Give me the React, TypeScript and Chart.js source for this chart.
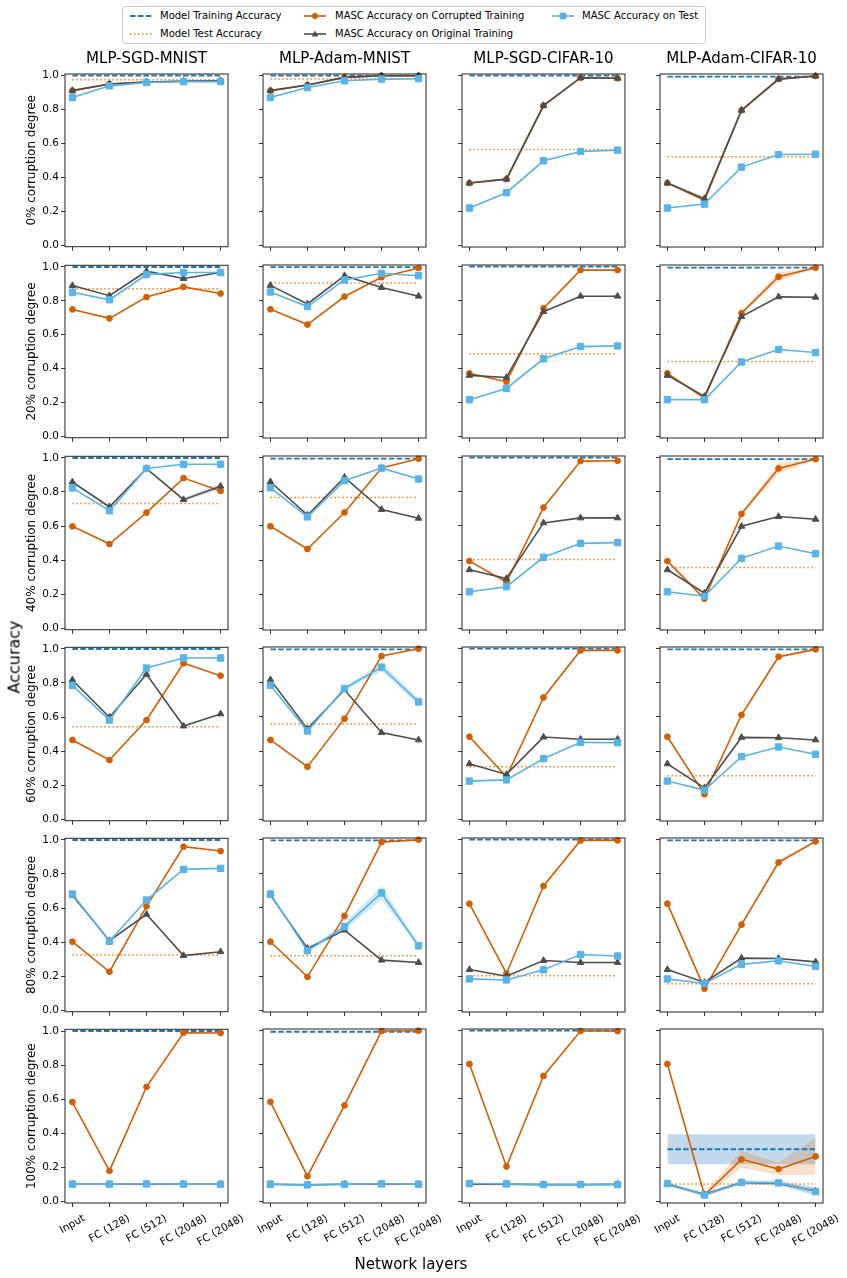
import React, { useEffect, useRef } from 'react';
import { Chart, registerables } from 'chart.js';

Chart.register(...registerables);

const FONT = "'DejaVu Sans', 'Liberation Sans', sans-serif";
Chart.defaults.font.family = FONT;
Chart.defaults.color = '#000';

// ---------------- data ----------------
const MODELS = ['MLP-SGD-MNIST', 'MLP-Adam-MNIST', 'MLP-SGD-CIFAR-10', 'MLP-Adam-CIFAR-10'];
const CORRUPTION = ['0%', '20%', '40%', '60%', '80%', '100%'];
const LAYERS = ['Input', 'FC (128)', 'FC (512)', 'FC (2048)', 'FC (2048)'];
const Y_TICKS = [0, 0.2, 0.4, 0.6, 0.8, 1.0];

// rows = corruption degree, columns = model
const modelTrainAccuracy = [
  [1.0, 1.0, 1.0, 0.994],
  [1.0, 0.997, 1.0, 0.994],
  [1.0, 0.995, 1.0, 0.992],
  [1.0, 0.996, 1.0, 0.996],
  [1.0, 0.996, 1.0, 0.996],
  [1.0, 0.994, 1.0, 0.305],
];
const modelTestAccuracy = [
  [0.976, 0.98, 0.565, 0.522],
  [0.871, 0.904, 0.486, 0.441],
  [0.732, 0.767, 0.404, 0.357],
  [0.543, 0.559, 0.308, 0.255],
  [0.324, 0.32, 0.202, 0.155],
  [0.098, 0.098, 0.098, 0.102],
];

const corruptedSgdMnist = [
  [0.912, 0.951, 0.963, 0.967, 0.97],
  [0.749, 0.696, 0.822, 0.882, 0.843],
  [0.598, 0.494, 0.679, 0.882, 0.806],
  [0.465, 0.347, 0.582, 0.916, 0.843],
  [0.402, 0.225, 0.61, 0.961, 0.935],
  [0.583, 0.179, 0.672, 0.99, 0.988],
];
const originalSgdMnist = [
  [0.912, 0.951, 0.963, 0.967, 0.97],
  [0.89, 0.83, 0.975, 0.932, 0.967],
  [0.859, 0.712, 0.938, 0.755, 0.834],
  [0.818, 0.598, 0.851, 0.547, 0.618],
  [0.675, 0.408, 0.563, 0.32, 0.343],
  [0.1, 0.1, 0.1, 0.1, 0.1],
];
const testSgdMnist = [
  [0.871, 0.94, 0.96, 0.965, 0.965],
  [0.851, 0.806, 0.955, 0.967, 0.967],
  [0.824, 0.69, 0.938, 0.963, 0.963],
  [0.786, 0.582, 0.888, 0.947, 0.947],
  [0.682, 0.404, 0.647, 0.827, 0.833],
  [0.101, 0.101, 0.102, 0.101, 0.1],
];

const corruptedAdamMnist = [
  [0.912, 0.945, 0.99, 1.0, 1.0],
  [0.749, 0.659, 0.824, 0.938, 0.992],
  [0.598, 0.465, 0.679, 0.94, 0.994],
  [0.465, 0.308, 0.59, 0.957, 1.0],
  [0.402, 0.196, 0.553, 0.986, 1.0],
  [0.583, 0.147, 0.562, 0.998, 1.0],
];
const originalAdamMnist = [
  [0.912, 0.945, 0.99, 1.0, 1.0],
  [0.89, 0.78, 0.947, 0.877, 0.826],
  [0.859, 0.663, 0.885, 0.696, 0.645],
  [0.818, 0.53, 0.759, 0.508, 0.465],
  [0.675, 0.363, 0.47, 0.294, 0.28],
  [0.1, 0.096, 0.1, 0.1, 0.1],
];
const testAdamMnist = [
  [0.871, 0.93, 0.97, 0.98, 0.982],
  [0.851, 0.765, 0.922, 0.961, 0.947],
  [0.824, 0.653, 0.865, 0.939, 0.875],
  [0.786, 0.518, 0.767, 0.892, 0.688],
  [0.682, 0.349, 0.49, 0.688, 0.378],
  [0.1, 0.096, 0.1, 0.102, 0.1],
];

const corruptedSgdCifar = [
  [0.367, 0.39, 0.824, 0.988, 0.985],
  [0.371, 0.322, 0.755, 0.98, 0.98],
  [0.394, 0.271, 0.708, 0.98, 0.982],
  [0.484, 0.249, 0.714, 0.99, 0.99],
  [0.625, 0.216, 0.729, 0.996, 0.996],
  [0.805, 0.204, 0.735, 0.998, 0.998],
];
const originalSgdCifar = [
  [0.367, 0.39, 0.824, 0.988, 0.985],
  [0.359, 0.347, 0.735, 0.826, 0.826],
  [0.343, 0.292, 0.618, 0.647, 0.647],
  [0.325, 0.263, 0.482, 0.469, 0.469],
  [0.239, 0.2, 0.292, 0.28, 0.28],
  [0.1, 0.1, 0.098, 0.098, 0.1],
];
const testSgdCifar = [
  [0.22, 0.31, 0.498, 0.553, 0.561],
  [0.216, 0.282, 0.457, 0.529, 0.533],
  [0.214, 0.244, 0.416, 0.498, 0.502],
  [0.224, 0.231, 0.355, 0.451, 0.449],
  [0.184, 0.178, 0.237, 0.327, 0.318],
  [0.104, 0.102, 0.098, 0.098, 0.098],
];

const corruptedAdamCifar = [
  [0.367, 0.265, 0.796, 0.98, 0.998],
  [0.371, 0.226, 0.726, 0.941, 0.994],
  [0.394, 0.173, 0.671, 0.937, 0.992],
  [0.484, 0.147, 0.612, 0.953, 0.996],
  [0.625, 0.127, 0.502, 0.867, 0.99],
  [0.805, 0.037, 0.246, 0.189, 0.263],
];
const originalAdamCifar = [
  [0.367, 0.275, 0.796, 0.98, 0.998],
  [0.359, 0.235, 0.706, 0.822, 0.82],
  [0.343, 0.206, 0.598, 0.655, 0.639],
  [0.325, 0.184, 0.48, 0.478, 0.465],
  [0.239, 0.163, 0.306, 0.304, 0.284],
  [0.1, 0.04, 0.11, 0.105, 0.06],
];
const testAdamCifar = [
  [0.22, 0.243, 0.461, 0.535, 0.537],
  [0.216, 0.216, 0.438, 0.512, 0.494],
  [0.214, 0.188, 0.41, 0.482, 0.437],
  [0.224, 0.171, 0.367, 0.424, 0.381],
  [0.184, 0.157, 0.269, 0.29, 0.257],
  [0.104, 0.037, 0.11, 0.108, 0.057],
];

// spread (half-width of shaded bands)
const NO_SPREAD = [0, 0, 0, 0, 0];
const corruptedSpreadAdamCifar = [
  NO_SPREAD,
  [0, 0.01, 0.01, 0.025, 0.005],
  [0, 0.01, 0.01, 0.03, 0.005],
  [0, 0.005, 0.01, 0.01, 0.003],
  [0, 0.005, 0.01, 0.015, 0.005],
  [0.005, 0.015, 0.05, 0.035, 0.11],
];
const originalSpreadAdamCifar = [
  [0, 0.01, 0, 0, 0],
  [0, 0.005, 0, 0, 0],
  [0, 0.01, 0, 0, 0],
  NO_SPREAD,
  NO_SPREAD,
  [0.005, 0.01, 0.01, 0.01, 0.02],
];
const testSpreadAdamCifar = [NO_SPREAD, NO_SPREAD, NO_SPREAD, NO_SPREAD, NO_SPREAD, [0.01, 0.01, 0.01, 0.015, 0.025]];
const testSpreadAdamMnist = [
  NO_SPREAD,
  NO_SPREAD,
  NO_SPREAD,
  [0, 0.01, 0.01, 0.025, 0.02],
  [0, 0.01, 0.02, 0.04, 0.01],
  NO_SPREAD,
];
const originalSpreadSgdMnist = [NO_SPREAD, NO_SPREAD, [0, 0.01, 0, 0.01, 0.02], NO_SPREAD, NO_SPREAD, NO_SPREAD];
const trainSpreadAdamCifar = [0, 0, 0, 0, 0, 0.088];

const CORRUPTED = [corruptedSgdMnist, corruptedAdamMnist, corruptedSgdCifar, corruptedAdamCifar];
const ORIGINAL = [originalSgdMnist, originalAdamMnist, originalSgdCifar, originalAdamCifar];
const TEST = [testSgdMnist, testAdamMnist, testSgdCifar, testAdamCifar];
const CORRUPTED_SPREAD = [null, null, null, corruptedSpreadAdamCifar];
const ORIGINAL_SPREAD = [originalSpreadSgdMnist, null, null, originalSpreadAdamCifar];
const TEST_SPREAD = [null, testSpreadAdamMnist, null, testSpreadAdamCifar];
const TRAIN_SPREAD = [null, null, null, trainSpreadAdamCifar];

// ---------------- styles ----------------
const C_TRAIN = '#1f77b4';
const C_MODEL_TEST = '#ff7f0e';
const C_CORRUPT = '#d55e00';
const C_ORIG = '#4d4d4d';
const C_TEST = '#56b4e9';

// ---------------- layout ----------------
const COL_LEFT = [65, 263.3, 461.6, 660];
const BOX_W = 163;
const ROW_TOP0 = 74;
const ROW_STEP = 191.05;
const BOX_H = 173.4;

function geom(row: number, col: number) {
  const bl = Math.round(COL_LEFT[col]);
  const br = Math.round(COL_LEFT[col] + BOX_W);
  const bt = Math.round(ROW_TOP0 + ROW_STEP * row);
  const bb = Math.round(ROW_TOP0 + ROW_STEP * row + BOX_H);
  const padL = col === 0 ? bl : row === 5 ? 36 : 8;
  const padR = row === 5 ? 30 : 6;
  const padT = row === 0 ? 28 : 8;
  const padB = row === 5 ? 52 : 8;
  return {
    left: bl - padL,
    top: bt - padT,
    width: br - bl + padL + padR,
    height: bb - bt + padT + padB,
    padL, padR, padT, padB,
  };
}

const toPoints = (arr: number[]) => arr.map((y, i) => ({ x: i, y }));
const constLine = (v: number) => LAYERS.map((_, i) => ({ x: i, y: v }));

function bandDatasets(values: number[], spread: number[] | null, color: string) {
  if (!spread || !spread.some((s) => s > 0)) return [];
  return [
    {
      data: values.map((v, i) => ({ x: i, y: v + spread[i] })),
      fill: '+1',
      backgroundColor: color,
      borderColor: 'transparent',
      borderWidth: 0,
      pointRadius: 0,
    },
    {
      data: values.map((v, i) => ({ x: i, y: v - spread[i] })),
      fill: false,
      borderColor: 'transparent',
      borderWidth: 0,
      pointRadius: 0,
    },
  ];
}

const framePlugin = {
  id: 'frame',
  afterDatasetsDraw(chart: any) {
    const { left, top, right, bottom } = chart.chartArea;
    const ctx = chart.ctx;
    ctx.save();
    ctx.strokeStyle = '#222';
    ctx.lineWidth = 1;
    ctx.strokeRect(left, top, right - left, bottom - top);
    ctx.restore();
  },
};

const layerLabelPlugin = {
  id: 'layerLabels',
  afterDraw(chart: any) {
    const xs = chart.scales.x;
    const ctx = chart.ctx;
    const fs = 10.5;
    ctx.save();
    ctx.font = `${fs}px ${FONT}`;
    ctx.fillStyle = '#000';
    ctx.textAlign = 'center';
    ctx.textBaseline = 'middle';
    LAYERS.forEach((label, i) => {
      const x = xs.getPixelForValue(i);
      const w = ctx.measureText(label).width;
      const bh = w * 0.5 + fs * 0.866;
      const cy = chart.chartArea.bottom + 10 + bh / 2;
      ctx.save();
      ctx.translate(x, cy);
      ctx.rotate(-Math.PI / 6);
      ctx.fillText(label, 0, 0);
      ctx.restore();
    });
    ctx.restore();
  },
};

function Panel({ row, col }: { row: number; col: number }) {
  const ref = useRef<HTMLCanvasElement>(null);
  const g = geom(row, col);

  useEffect(() => {
    if (!ref.current) return;
    const lineBase = { tension: 0, borderWidth: 1.6, pointBorderWidth: 1, clip: false as any };
    const datasets: any[] = [
      {
        ...lineBase,
        label: 'MASC Accuracy on Test',
        data: toPoints(TEST[col][row]),
        borderColor: C_TEST,
        backgroundColor: C_TEST,
        pointStyle: 'rect',
        pointRadius: 4.5,
      },
      {
        ...lineBase,
        label: 'MASC Accuracy on Original Training',
        data: toPoints(ORIGINAL[col][row]),
        borderColor: C_ORIG,
        backgroundColor: C_ORIG,
        pointStyle: 'triangle',
        pointRadius: 3.8,
      },
      {
        ...lineBase,
        label: 'MASC Accuracy on Corrupted Training',
        data: toPoints(CORRUPTED[col][row]),
        borderColor: C_CORRUPT,
        backgroundColor: C_CORRUPT,
        pointStyle: 'circle',
        pointRadius: 2.9,
      },
      {
        label: 'Model Test Accuracy',
        data: constLine(modelTestAccuracy[row][col]),
        borderColor: C_MODEL_TEST,
        borderWidth: 1.5,
        borderDash: [1.5, 2.5],
        pointRadius: 0,
        clip: false,
      },
      {
        label: 'Model Training Accuracy',
        data: constLine(modelTrainAccuracy[row][col]),
        borderColor: C_TRAIN,
        borderWidth: 1.8,
        borderDash: [5.5, 2.4],
        pointRadius: 0,
        clip: false,
      },
    ];
    const cs = CORRUPTED_SPREAD[col];
    const os = ORIGINAL_SPREAD[col];
    const ts = TEST_SPREAD[col];
    const trs = TRAIN_SPREAD[col];
    datasets.push(...bandDatasets(TEST[col][row], ts ? ts[row] : null, 'rgba(86,180,233,0.28)'));
    datasets.push(...bandDatasets(ORIGINAL[col][row], os ? os[row] : null, 'rgba(77,77,77,0.18)'));
    datasets.push(...bandDatasets(CORRUPTED[col][row], cs ? cs[row] : null, 'rgba(213,94,0,0.2)'));
    if (trs && trs[row] > 0) {
      const v = modelTrainAccuracy[row][col];
      datasets.push(...bandDatasets(LAYERS.map(() => v), LAYERS.map(() => trs[row]), 'rgba(31,119,180,0.28)'));
    }

    const gridOpts = {
      display: true,
      drawOnChartArea: false,
      drawTicks: true,
      tickLength: 4,
      color: '#000',
      lineWidth: 0.8,
    };

    const chart = new Chart(ref.current, {
      type: 'line',
      data: { datasets },
      plugins: row === 5 ? [framePlugin, layerLabelPlugin] : [framePlugin],
      options: {
        animation: false,
        responsive: true,
        maintainAspectRatio: false,
        events: [],
        layout: { padding: { top: row === 0 ? 0 : g.padT, right: g.padR, left: 0, bottom: 0 } },
        plugins: {
          legend: { display: false },
          tooltip: { enabled: false },
          title: {
            display: row === 0,
            text: MODELS[col],
            fullSize: false,
            color: '#000',
            font: { size: 15, weight: 'normal', family: FONT, lineHeight: 1.2 },
            padding: { top: 4, bottom: 6 },
          },
        },
        scales: {
          x: {
            type: 'linear',
            min: -0.2,
            max: 4.2,
            afterBuildTicks: (s: any) => {
              s.ticks = LAYERS.map((_, i) => ({ value: i }));
            },
            afterFit: (s: any) => {
              s.height = g.padB;
            },
            ticks: { display: false },
            grid: gridOpts,
            border: { display: false },
          },
          y: {
            type: 'linear',
            min: -0.01,
            max: 1.01,
            afterBuildTicks: (s: any) => {
              s.ticks = Y_TICKS.map((v) => ({ value: v }));
            },
            afterFit: (s: any) => {
              s.width = g.padL;
            },
            ticks: {
              display: col === 0,
              color: '#000',
              padding: 2,
              font: { size: 10.5, family: FONT },
              callback: (v: any) => Number(v).toFixed(1),
            },
            grid: gridOpts,
            border: { display: false },
            title: {
              display: col === 0,
              text: `${CORRUPTION[row]} corruption degree`,
              color: '#000',
              font: { size: 12, family: FONT, lineHeight: 1.2 },
              padding: { top: 24.5, bottom: 0 },
            },
          },
        },
      } as any,
    });
    return () => chart.destroy();
  }, []);

  return (
    <div style={{ position: 'absolute', left: g.left, top: g.top, width: g.width, height: g.height }}>
      <canvas ref={ref} />
    </div>
  );
}

function Handle({ kind }: { kind: string }) {
  return (
    <svg width={22} height={10} style={{ display: 'block' }}>
      {kind === 'train' && (
        <line x1={0} y1={5} x2={22} y2={5} stroke={C_TRAIN} strokeWidth={1.8} strokeDasharray="5.5 2.4" />
      )}
      {kind === 'mtest' && (
        <line x1={0} y1={5} x2={22} y2={5} stroke={C_MODEL_TEST} strokeWidth={1.5} strokeDasharray="1.5 2.5" />
      )}
      {kind === 'corrupt' && (
        <g>
          <line x1={0} y1={5} x2={22} y2={5} stroke={C_CORRUPT} strokeWidth={1.6} />
          <circle cx={11} cy={5} r={3} fill={C_CORRUPT} />
        </g>
      )}
      {kind === 'orig' && (
        <g>
          <line x1={0} y1={5} x2={22} y2={5} stroke={C_ORIG} strokeWidth={1.6} />
          <polygon points="11,1.5 14.3,7.5 7.7,7.5" fill={C_ORIG} />
        </g>
      )}
      {kind === 'test' && (
        <g>
          <line x1={0} y1={5} x2={22} y2={5} stroke={C_TEST} strokeWidth={1.6} />
          <rect x={7.7} y={1.7} width={6.6} height={6.6} fill={C_TEST} />
        </g>
      )}
    </svg>
  );
}

const LEGEND_ITEMS = [
  { kind: 'train', text: 'Model Training Accuracy', hx: 130, tx: 160, y: 16.4 },
  { kind: 'mtest', text: 'Model Test Accuracy', hx: 130, tx: 160, y: 33.6 },
  { kind: 'corrupt', text: 'MASC Accuracy on Corrupted Training', hx: 304, tx: 335, y: 16.4 },
  { kind: 'orig', text: 'MASC Accuracy on Original Training', hx: 304, tx: 335, y: 33.6 },
  { kind: 'test', text: 'MASC Accuracy on Test', hx: 552, tx: 582, y: 16.4 },
];

export default function App() {
  const panels: JSX.Element[] = [];
  CORRUPTION.forEach((_, r) => {
    MODELS.forEach((__, c) => {
      panels.push(<Panel key={`${r}-${c}`} row={r} col={c} />);
    });
  });
  return (
    <div
      style={{
        position: 'absolute',
        left: 0,
        top: 0,
        width: 847,
        height: 1278,
        background: '#fff',
        overflow: 'hidden',
        fontFamily: FONT,
        color: '#000',
      }}
    >
      <div
        style={{
          position: 'absolute',
          left: 122,
          top: 6,
          width: 584,
          height: 38,
          border: '1px solid #cccccc',
          borderRadius: 3,
          boxSizing: 'border-box',
          background: '#fff',
        }}
      />
      {LEGEND_ITEMS.map((it) => (
        <React.Fragment key={it.text}>
          <div style={{ position: 'absolute', left: it.hx, top: it.y - 5 }}>
            <Handle kind={it.kind} />
          </div>
          <div
            style={{
              position: 'absolute',
              left: it.tx,
              top: it.y,
              transform: 'translateY(-50%)',
              fontSize: 10,
              lineHeight: '12px',
              whiteSpace: 'nowrap',
            }}
          >
            {it.text}
          </div>
        </React.Fragment>
      ))}
      {panels}
      <div
        style={{
          position: 'absolute',
          left: 13.5,
          top: 657,
          transform: 'translate(-50%, -50%) rotate(-90deg)',
          fontSize: 16,
          whiteSpace: 'nowrap',
          lineHeight: '19px',
        }}
      >
        Accuracy
      </div>
      <div
        style={{
          position: 'absolute',
          left: 411,
          top: 1264,
          transform: 'translate(-50%, -50%)',
          fontSize: 15,
          whiteSpace: 'nowrap',
          lineHeight: '18px',
        }}
      >
        Network layers
      </div>
    </div>
  );
}
